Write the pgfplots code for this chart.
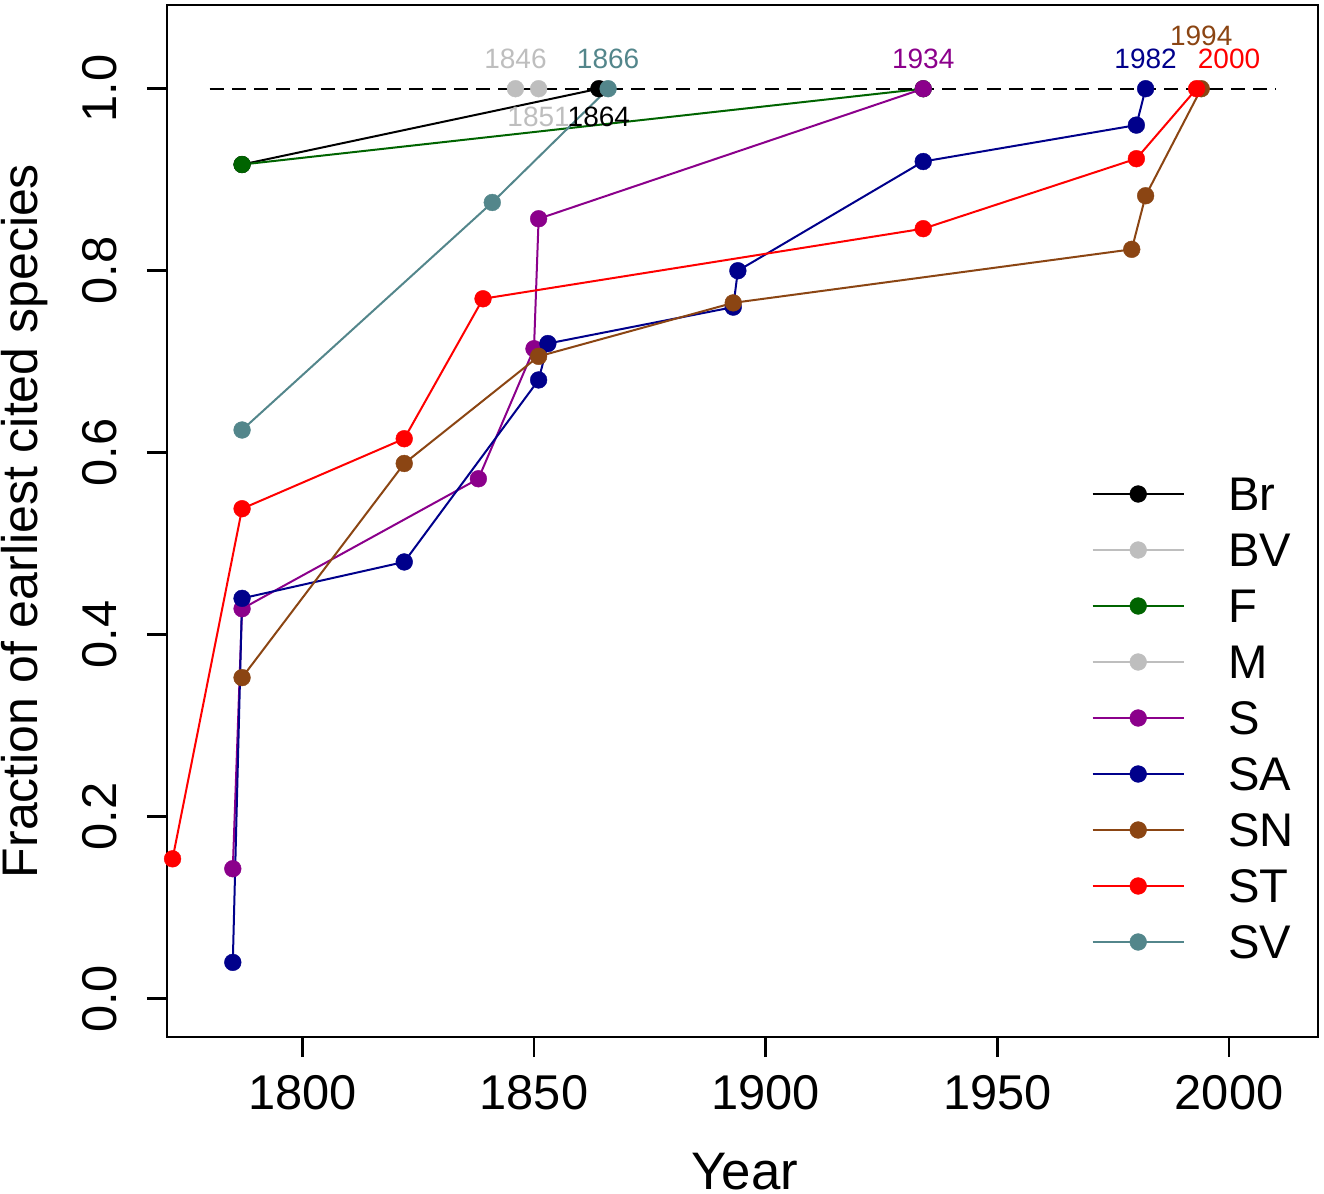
\documentclass[border=0pt]{standalone}
\usepackage{fontspec}
\setmainfont{Liberation Sans}
\usepackage{pgfplots}
\pgfplotsset{compat=1.18}
\definecolor{cBr}{HTML}{000000}
\definecolor{cBV}{HTML}{BEBEBE}
\definecolor{cF}{HTML}{006400}
\definecolor{cM}{HTML}{BEBEBE}
\definecolor{cS}{HTML}{8B008B}
\definecolor{cSA}{HTML}{00008B}
\definecolor{cSN}{HTML}{8B4513}
\definecolor{cST}{HTML}{FF0000}
\definecolor{cSV}{HTML}{53868B}
\pgfplotsset{ser/.style={color=#1, line width=0.5bp, mark=*, mark size=2.1bp, mark options={solid, fill=#1, draw=#1, line width=0.1bp}}}
\newcommand{\lblfont}{\fontsize{7bp}{8bp}\selectfont}
\begin{document}
\begin{tikzpicture}
\begin{axis}[
  scale only axis, width=287.75bp, height=258bp,
  xmin=1770.8, xmax=2019.2, ymin=-0.042, ymax=1.092,
  xtick={1800,1850,1900,1950,2000}, xticklabels={1800,1850,1900,1950,2000},
  ytick={0,0.2,0.4,0.6,0.8,1}, yticklabels={0.0,0.2,0.4,0.6,0.8,1.0},
  tick align=outside, xtick pos=bottom, ytick pos=left, major tick length=5bp,
  axis line style={line width=0.7bp},
  every tick/.style={black, line width=0.65bp},
  xticklabel style={anchor=north, inner sep=0pt, yshift=-4.5bp, font=\fontsize{12.2bp}{14bp}\selectfont},
  yticklabel style={rotate=90, anchor=south, inner xsep=0pt, inner ysep=7.25bp, font=\fontsize{12.2bp}{14bp}\selectfont},
  xlabel={Year}, ylabel={Fraction of earliest cited species},
  every axis x label/.style={at={(axis description cs:0.502,-0.1473)}, anchor=base, font=\fontsize{13.2bp}{15bp}\selectfont},
  every axis y label/.style={at={(axis description cs:-0.1121,0.5)}, rotate=90, anchor=base, font=\fontsize{12.5bp}{15bp}\selectfont},
  legend cell align=left,
  legend style={at={(0.8034,0.5533)}, anchor=north west, draw=none, fill=none, inner sep=0pt, outer sep=0pt, row sep=0pt, column sep=10.9bp, font=\fontsize{11.8bp}{14bp}\selectfont, nodes={inner sep=0pt, text height=11.2bp, text depth=2.8bp}},
  legend image code/.code={\draw[mark repeat=2,mark phase=2] plot coordinates {(0bp,0bp) (11.375bp,0bp) (22.75bp,0bp)};},
  clip=false,
]
\addplot[ser=cBr] coordinates {(1787,0.9167) (1864,1)};
\addlegendentry{Br}
\addplot[ser=cBV] coordinates {(1846,1)};
\addlegendentry{BV}
\addplot[ser=cF] coordinates {(1787,0.9167) (1934,1)};
\addlegendentry{F}
\addplot[ser=cM] coordinates {(1851,1)};
\addlegendentry{M}
\addplot[ser=cS] coordinates {(1785,0.1429) (1787,0.4286) (1838,0.5714) (1850,0.7143) (1851,0.8571) (1934,1)};
\addlegendentry{S}
\addplot[ser=cSA] coordinates {(1785,0.04) (1787,0.44) (1822,0.48) (1851,0.68) (1853,0.72) (1893,0.76) (1894,0.80) (1934,0.92) (1980,0.96) (1982,1)};
\addlegendentry{SA}
\addplot[ser=cSN] coordinates {(1787,0.3529) (1822,0.5882) (1851,0.7059) (1893,0.7647) (1979,0.8235) (1982,0.8824) (1994,1)};
\addlegendentry{SN}
\addplot[ser=cST] coordinates {(1772,0.1538) (1787,0.5385) (1822,0.6154) (1839,0.7692) (1934,0.8462) (1980,0.9231) (1993,1)};
\addlegendentry{ST}
\addplot[ser=cSV] coordinates {(1787,0.625) (1841,0.875) (1866,1)};
\addlegendentry{SV}
\addplot[forget plot, black, line width=0.55bp, dash pattern=on 3.5bp off 2.05bp] coordinates {(1780,1) (2010,1)};
\node[text=cBV, font=\lblfont, inner sep=0pt] at (axis cs:1846,1.0333) {1846};
\node[text=cBV, font=\lblfont, inner sep=0pt] at (axis cs:1851,0.9695) {1851};
\node[text=cBr, font=\lblfont, inner sep=0pt] at (axis cs:1864,0.9695) {1864};
\node[text=cSV, font=\lblfont, inner sep=0pt] at (axis cs:1866,1.0333) {1866};
\node[text=cS, font=\lblfont, inner sep=0pt] at (axis cs:1934,1.0333) {1934};
\node[text=cSA, font=\lblfont, inner sep=0pt] at (axis cs:1982,1.0333) {1982};
\node[text=cSN, font=\lblfont, inner sep=0pt] at (axis cs:1994,1.0578) {1994};
\node[text=cST, font=\lblfont, inner sep=0pt] at (axis cs:2000,1.0333) {2000};
\end{axis}
\pgfresetboundingbox
\path[use as bounding box] (-41.75bp,-39.25bp) rectangle (289.25bp,259.25bp);
\end{tikzpicture}
\end{document}
